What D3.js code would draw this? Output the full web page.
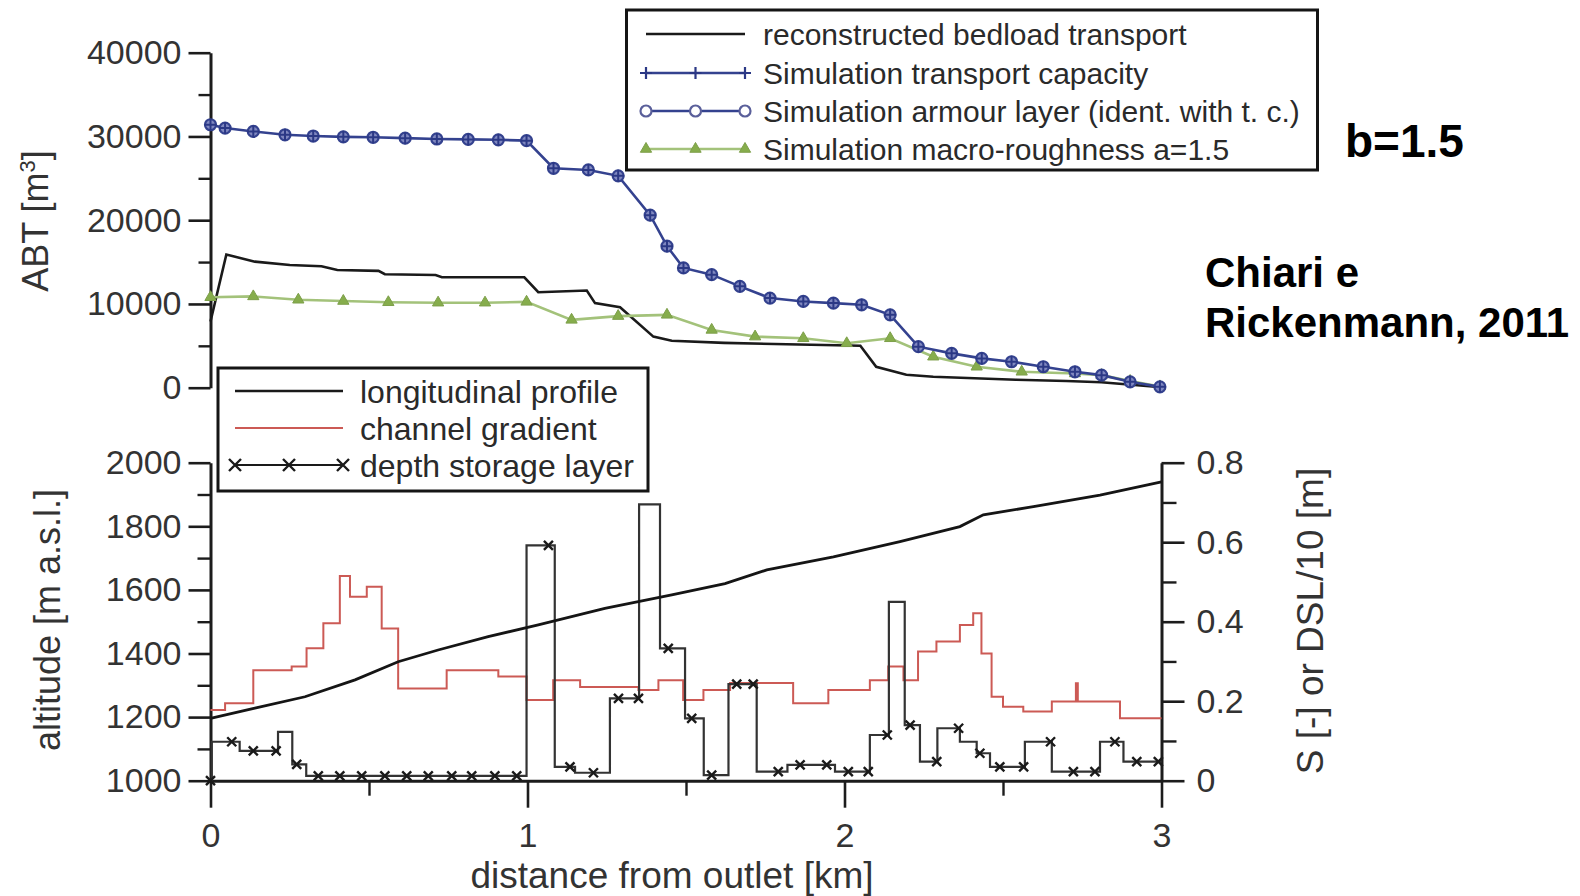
<!DOCTYPE html>
<html>
<head>
<meta charset="utf-8">
<script src="https://cdn.jsdelivr.net/npm/d3@7"></script>
<style>
  html, body { margin: 0; padding: 0; background: #fff; }
  svg { display: block; font-family: "Liberation Sans", Arial, sans-serif; }
</style>
</head>
<body>
<svg id="chart" width="1580" height="896"></svg>
<script>
// ---------- top panel: accumulated bedload transport ABT [m³] vs distance [km] ----------
const abtReconstructed = [
  [0, 7900], [0.05, 15900], [0.14, 15050], [0.25, 14650], [0.35, 14500], [0.40, 14050],
  [0.53, 13950], [0.55, 13550], [0.71, 13450], [0.73, 13180], [0.99, 13180], [1.034, 11400],
  [1.187, 11600], [1.213, 10100], [1.292, 9600], [1.397, 6100], [1.455, 5600], [1.62, 5350],
  [2.05, 5000], [2.10, 2500], [2.195, 1550], [2.28, 1300], [2.54, 950], [2.70, 800],
  [2.81, 650], [3.0, 50]
];
const abtCapacity = [
  [0, 31400], [0.046, 31000], [0.135, 30600], [0.235, 30200], [0.324, 30050], [0.419, 29950],
  [0.513, 29900], [0.614, 29800], [0.714, 29700], [0.813, 29650], [0.908, 29600], [0.997, 29500],
  [1.082, 26200], [1.192, 26000], [1.286, 25300], [1.387, 20600], [1.44, 16900], [1.492, 14300],
  [1.581, 13500], [1.670, 12100], [1.765, 10700], [1.870, 10300], [1.965, 10100], [2.054, 9900],
  [2.144, 8700], [2.233, 4900], [2.338, 4100], [2.433, 3500], [2.527, 3100], [2.627, 2500],
  [2.727, 1900], [2.811, 1500], [2.901, 700], [2.995, 100]
];
// armour layer results are identical with the transport capacity run
const abtArmour = abtCapacity;
const abtMacroRoughness = [
  [0, 10800], [0.135, 10900], [0.277, 10500], [0.419, 10350], [0.561, 10200], [0.718, 10150],
  [0.866, 10150], [0.997, 10250], [1.139, 8100], [1.286, 8550], [1.44, 8700], [1.581, 6900],
  [1.718, 6100], [1.870, 5900], [2.007, 5300], [2.144, 5900], [2.28, 3700], [2.417, 2500],
  [2.559, 1900], [2.727, 1700], [2.811, 1500], [2.901, 800], [2.995, 150]
];
const abtTicks = [0, 10000, 20000, 30000, 40000];
const abtMinorTicks = [5000, 15000, 25000, 35000];

// ---------- bottom panel: profile, gradient and depth storage layer ----------
const profileAltitude = [
  [0, 1196], [0.14, 1228], [0.298, 1264], [0.456, 1317], [0.592, 1374], [0.718, 1411],
  [0.876, 1453], [1.034, 1490], [1.244, 1542], [1.455, 1584], [1.623, 1620], [1.755, 1663],
  [1.965, 1704], [2.175, 1752], [2.364, 1799], [2.438, 1836], [2.596, 1862], [2.806, 1898],
  [3.0, 1940]
];
// channel gradient S [-], one value per reach starting at the given km
const channelGradient = [
  [0, 0.178], [0.046, 0.195], [0.135, 0.278], [0.256, 0.287], [0.303, 0.333], [0.356, 0.396],
  [0.408, 0.515], [0.44, 0.463], [0.493, 0.488], [0.54, 0.383], [0.592, 0.232], [0.745, 0.278],
  [0.908, 0.262], [0.997, 0.203], [1.081, 0.253], [1.166, 0.236], [1.35, 0.228], [1.413, 0.253],
  [1.491, 0.203], [1.555, 0.228], [1.639, 0.246], [1.838, 0.195], [1.949, 0.228], [2.08, 0.253],
  [2.138, 0.287], [2.186, 0.253], [2.232, 0.325], [2.29, 0.35], [2.364, 0.392], [2.406, 0.421],
  [2.432, 0.32], [2.464, 0.211], [2.5, 0.186], [2.564, 0.174], [2.654, 0.199], [2.73, 0.245],
  [2.736, 0.199], [2.869, 0.157], [3.0, 0.157]
];
// depth storage layer DSL/10 [m], one value per reach starting at the given km
const depthStorageLayer = [
  [0, 0.0], [0.004, 0.098], [0.092, 0.075], [0.213, 0.123], [0.258, 0.041], [0.302, 0.012],
  [0.997, 0.592], [1.086, 0.035], [1.15, 0.02], [1.26, 0.207], [1.352, 0.695], [1.418, 0.333],
  [1.497, 0.157], [1.556, 0.014], [1.634, 0.243], [1.723, 0.023], [1.82, 0.04], [1.97, 0.023],
  [2.08, 0.115], [2.14, 0.45], [2.19, 0.14], [2.238, 0.048], [2.293, 0.132], [2.364, 0.098],
  [2.417, 0.069], [2.459, 0.035], [2.569, 0.098], [2.654, 0.023], [2.806, 0.098], [2.88, 0.048],
  [3.0, 0.048]
];
const dslMarkerKm = [
  0, 0.067, 0.135, 0.207, 0.272, 0.34, 0.408, 0.477, 0.55, 0.619, 0.687, 0.761, 0.824, 0.897,
  0.966, 1.066, 1.134, 1.208, 1.287, 1.35, 1.444, 1.518, 1.581, 1.66, 1.712, 1.791, 1.86, 1.944,
  2.012, 2.075, 2.135, 2.207, 2.291, 2.36, 2.427, 2.49, 2.565, 2.65, 2.722, 2.79, 2.853, 2.922, 2.99
];
const altitudeTicks = [1000, 1200, 1400, 1600, 1800, 2000];
const altitudeMinorTicks = [1100, 1300, 1500, 1700, 1900];
const slopeTicks = [0, 0.2, 0.4, 0.6, 0.8];
const slopeMinorTicks = [0.1, 0.3, 0.5, 0.7];
const distanceTicks = [0, 1, 2, 3];
const distanceMinorTicks = [0.5, 1.5, 2.5];

const topLegendLabels = [
  "reconstructed bedload transport",
  "Simulation transport capacity",
  "Simulation armour layer (ident. with t. c.)",
  "Simulation macro-roughness a=1.5"
];
const bottomLegendLabels = ["longitudinal profile", "channel gradient", "depth storage layer"];
const noteLabels = { factor: "b=1.5", source: ["Chiari e", "Rickenmann, 2011"] };

// ---------- drawing ----------
const svg = d3.select("#chart");
const AX = "#1c1c1c";
const C_BLUE = "#34428f", C_BLUE_FILL = "#8088c0";
const C_GREEN = "#a3c27a", C_GREEN_MARK = "#86ad4c";
const C_RED = "#cc5a55";

const x = d3.scaleLinear().domain([0, 3]).range([210.5, 1161.5]);
const yAbt = d3.scaleLinear().domain([0, 40000]).range([387.7, 52.7]);
const yAlt = d3.scaleLinear().domain([1000, 2000]).range([780.7, 462.7]);
const yS = d3.scaleLinear().domain([0, 0.8]).range([780.7, 462.7]);

function styleAxis(g, fontSize) {
  g.select(".domain").attr("stroke", AX).attr("stroke-width", 3);
  g.selectAll(".tick line").attr("stroke", AX).attr("stroke-width", 2.6);
  g.selectAll(".tick text").attr("fill", "#333").style("font-size", fontSize + "px")
    .style("font-family", "'Liberation Sans', Arial, sans-serif");
}
function minorAxis(axis, transform) {
  const g = svg.append("g").attr("transform", transform).call(axis);
  g.select(".domain").remove();
  g.selectAll(".tick line").attr("stroke", AX).attr("stroke-width", 2.4);
  return g;
}

// --- top panel axes ---
const gAbt = svg.append("g").attr("transform", `translate(${x(0)},0)`)
  .call(d3.axisLeft(yAbt).tickValues(abtTicks).tickSize(22).tickSizeOuter(0).tickPadding(7).tickFormat(d3.format("d")));
styleAxis(gAbt, 34);
minorAxis(d3.axisLeft(yAbt).tickValues(abtMinorTicks).tickSize(12).tickFormat(""), `translate(${x(0)},0)`);

// --- bottom panel axes ---
const gAlt = svg.append("g").attr("transform", `translate(${x(0)},0)`)
  .call(d3.axisLeft(yAlt).tickValues(altitudeTicks).tickSize(22).tickSizeOuter(0).tickPadding(7).tickFormat(d3.format("d")));
styleAxis(gAlt, 34);
minorAxis(d3.axisLeft(yAlt).tickValues(altitudeMinorTicks).tickSize(13).tickFormat(""), `translate(${x(0)},0)`);

const gS = svg.append("g").attr("transform", `translate(${x(3)},0)`)
  .call(d3.axisRight(yS).tickValues(slopeTicks).tickSize(23).tickSizeOuter(0).tickPadding(12).tickFormat(d => d === 0 ? "0" : d3.format(".1f")(d)));
styleAxis(gS, 34);
minorAxis(d3.axisRight(yS).tickValues(slopeMinorTicks).tickSize(15).tickFormat(""), `translate(${x(3)},0)`);

const gX = svg.append("g").attr("transform", `translate(0,${yAlt(1000)})`)
  .call(d3.axisBottom(x).tickValues(distanceTicks).tickSize(27).tickSizeOuter(0).tickPadding(15).tickFormat(d3.format("d")));
styleAxis(gX, 34);
minorAxis(d3.axisBottom(x).tickValues(distanceMinorTicks).tickSize(15).tickFormat(""), `translate(0,${yAlt(1000)})`);

// --- axis titles ---
const abtTitle = svg.append("text")
  .attr("transform", `translate(48,221) rotate(-90)`)
  .attr("text-anchor", "middle").attr("fill", "#333").style("font-size", "36px");
abtTitle.append("tspan").text("ABT [m");
abtTitle.append("tspan").attr("dy", -13).style("font-size", "22px").text("3");
abtTitle.append("tspan").attr("dy", 13).text("]");

svg.append("text").attr("transform", `translate(60,620) rotate(-90)`)
  .attr("text-anchor", "middle").attr("fill", "#333").style("font-size", "36px")
  .text("altitude [m a.s.l.]");
svg.append("text").attr("transform", `translate(1323,621) rotate(-90)`)
  .attr("text-anchor", "middle").attr("fill", "#333").style("font-size", "37px")
  .text("S [-] or DSL/10 [m]");
svg.append("text").attr("x", 672).attr("y", 888)
  .attr("text-anchor", "middle").attr("fill", "#333").style("font-size", "37px")
  .text("distance from outlet [km]");

// --- bottom panel series ---
const stepS = d3.line().x(d => x(d[0])).y(d => yS(d[1])).curve(d3.curveStepAfter);
svg.append("path").datum(channelGradient).attr("d", stepS)
  .attr("fill", "none").attr("stroke", C_RED).attr("stroke-width", 2);

svg.append("path").datum(depthStorageLayer).attr("d", stepS)
  .attr("fill", "none").attr("stroke", "#333").attr("stroke-width", 2.2);

function dslAt(km) {
  let v = depthStorageLayer[0][1];
  for (const [start, val] of depthStorageLayer) if (start <= km) v = val;
  return v;
}
const crossPath = "M-4.5,-4.5L4.5,4.5M-4.5,4.5L4.5,-4.5";
svg.append("g").selectAll("path").data(dslMarkerKm).join("path")
  .attr("transform", d => `translate(${x(d)},${yS(dslAt(d))})`)
  .attr("d", crossPath).attr("stroke", "#1a1a1a").attr("stroke-width", 2.4).attr("fill", "none");

const lineAlt = d3.line().x(d => x(d[0])).y(d => yAlt(d[1]));
svg.append("path").datum(profileAltitude).attr("d", lineAlt)
  .attr("fill", "none").attr("stroke", "#151515").attr("stroke-width", 2.8);

// --- top panel series ---
const lineAbt = d3.line().x(d => x(d[0])).y(d => yAbt(d[1]));
svg.append("path").datum(abtReconstructed).attr("d", lineAbt)
  .attr("fill", "none").attr("stroke", "#1a1a1a").attr("stroke-width", 2.6);

svg.append("path").datum(abtMacroRoughness).attr("d", lineAbt)
  .attr("fill", "none").attr("stroke", C_GREEN).attr("stroke-width", 2.6);
const tri = d3.symbol(d3.symbolTriangle, 55);
svg.append("g").selectAll("path").data(abtMacroRoughness).join("path")
  .attr("transform", d => `translate(${x(d[0])},${yAbt(d[1])})`)
  .attr("d", tri).attr("fill", C_GREEN_MARK).attr("stroke", "#7d9f4a").attr("stroke-width", 1);

svg.append("path").datum(abtCapacity).attr("d", lineAbt)
  .attr("fill", "none").attr("stroke", C_BLUE).attr("stroke-width", 2.6);
svg.append("g").selectAll("circle").data(abtArmour).join("circle")
  .attr("cx", d => x(d[0])).attr("cy", d => yAbt(d[1])).attr("r", 5.5)
  .attr("fill", C_BLUE_FILL).attr("stroke", C_BLUE).attr("stroke-width", 2.2);
const plusPath = "M-6,0H6M0,-6V6";
svg.append("g").selectAll("path").data(abtCapacity).join("path")
  .attr("transform", d => `translate(${x(d[0])},${yAbt(d[1])})`)
  .attr("d", plusPath).attr("stroke", "#2b3885").attr("stroke-width", 2);

// --- top legend ---
const topLeg = svg.append("g");
topLeg.append("rect").attr("x", 626.5).attr("y", 10).attr("width", 691).attr("height", 160)
  .attr("fill", "#fff").attr("stroke", "#151515").attr("stroke-width", 3);
const topRows = [34, 73, 111, 149];
const legX0 = 646, legX1 = 745, legXm = 695.5;
topLeg.append("line").attr("x1", legX0).attr("x2", legX1).attr("y1", topRows[0]).attr("y2", topRows[0])
  .attr("stroke", "#1a1a1a").attr("stroke-width", 2.6);
topLeg.append("line").attr("x1", legX0).attr("x2", legX1).attr("y1", topRows[1]).attr("y2", topRows[1])
  .attr("stroke", C_BLUE).attr("stroke-width", 2.4);
[legX0, legXm, legX1].forEach(px => {
  topLeg.append("path").attr("transform", `translate(${px},${topRows[1]})`).attr("d", plusPath)
    .attr("stroke", "#2b3885").attr("stroke-width", 2.2);
});
topLeg.append("line").attr("x1", legX0).attr("x2", legX1).attr("y1", topRows[2]).attr("y2", topRows[2])
  .attr("stroke", C_BLUE).attr("stroke-width", 2.4);
[legX0, legXm, legX1].forEach(px => {
  topLeg.append("circle").attr("cx", px).attr("cy", topRows[2]).attr("r", 5.5)
    .attr("fill", "#fff").attr("stroke", "#5a5f9a").attr("stroke-width", 2.2);
});
topLeg.append("line").attr("x1", legX0).attr("x2", legX1).attr("y1", topRows[3]).attr("y2", topRows[3])
  .attr("stroke", C_GREEN).attr("stroke-width", 2.4);
[legX0, legXm, legX1].forEach(px => {
  topLeg.append("path").attr("transform", `translate(${px},${topRows[3]})`).attr("d", tri)
    .attr("fill", C_GREEN_MARK).attr("stroke", "#7d9f4a").attr("stroke-width", 1);
});
topLeg.selectAll("text.lab").data(topLegendLabels).join("text").attr("class", "lab")
  .attr("x", 763).attr("y", (d, i) => topRows[i]).attr("dy", "0.36em")
  .attr("fill", "#2a2a2a").style("font-size", "30px").text(d => d);

// --- bottom legend ---
const botLeg = svg.append("g");
botLeg.append("rect").attr("x", 218).attr("y", 368).attr("width", 430).attr("height", 123)
  .attr("fill", "#fff").attr("stroke", "#151515").attr("stroke-width", 3);
const botRows = [391, 428, 465];
const bX0 = 235, bX1 = 343, bXm = 289;
botLeg.append("line").attr("x1", bX0).attr("x2", bX1).attr("y1", botRows[0]).attr("y2", botRows[0])
  .attr("stroke", "#1a1a1a").attr("stroke-width", 2.4);
botLeg.append("line").attr("x1", bX0).attr("x2", bX1).attr("y1", botRows[1]).attr("y2", botRows[1])
  .attr("stroke", C_RED).attr("stroke-width", 2.2);
botLeg.append("line").attr("x1", bX0).attr("x2", bX1).attr("y1", botRows[2]).attr("y2", botRows[2])
  .attr("stroke", "#1a1a1a").attr("stroke-width", 2.2);
[bX0, bXm, bX1].forEach(px => {
  botLeg.append("path").attr("transform", `translate(${px},${botRows[2]})`)
    .attr("d", "M-6,-6L6,6M-6,6L6,-6").attr("stroke", "#1a1a1a").attr("stroke-width", 2.4);
});
botLeg.selectAll("text.lab").data(bottomLegendLabels).join("text").attr("class", "lab")
  .attr("x", 360).attr("y", (d, i) => botRows[i]).attr("dy", "0.36em")
  .attr("fill", "#2a2a2a").style("font-size", "32px").text(d => d);

// --- notes ---
svg.append("text").attr("x", 1345).attr("y", 157).attr("fill", "#000")
  .style("font-size", "46px").style("font-weight", "bold").text(noteLabels.factor);
svg.append("text").attr("x", 1205).attr("y", 287).attr("fill", "#000")
  .style("font-size", "42px").style("font-weight", "bold").text(noteLabels.source[0]);
svg.append("text").attr("x", 1205).attr("y", 337).attr("fill", "#000")
  .style("font-size", "42px").style("font-weight", "bold").text(noteLabels.source[1]);
</script>
</body>
</html>
